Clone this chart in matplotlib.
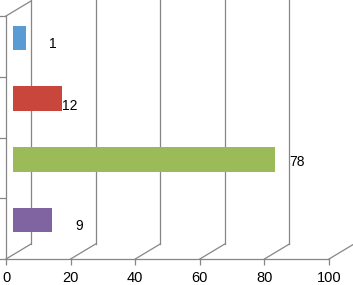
import matplotlib.pyplot as plt
import numpy as np

plt.rcParams['font.family'] = ['Liberation Sans', 'DejaVu Sans']

# data, top row first
values = [1, 12, 78, 9]
colors = ['#5b9bd5', '#c9463d', '#9bbb59', '#8064a2']
xticks = [0, 20, 40, 60, 80, 100]

fig = plt.figure(figsize=(3.53, 2.85), dpi=100)
ax = fig.add_axes([6 / 353, 26 / 285, 323 / 353, 243 / 285])
ax.set_xlim(0, 100)
ax.set_ylim(0, 4)

# pixel -> data conversion for the fake 3d depth
px_x = 323 / 100
px_y = 243 / 4
depth_x = 25 / px_x
depth_y = 15 / px_y
grey = '#868686'

# back wall gridlines and floor diagonals
for t in xticks:
    ax.plot([t + depth_x, t + depth_x], [depth_y, 5], color=grey, lw=0.9, clip_on=False)
    ax.plot([t, t + depth_x], [0, depth_y], color=grey, lw=0.9, clip_on=False)
# top edge of the side wall
ax.plot([0, depth_x], [4, 4 + depth_y], color=grey, lw=0.9, clip_on=False)

# bars (drawn half way into the depth)
n = len(values)
ypos = np.arange(n)[::-1] + 0.5 + 8.5 / px_y
bar_left = 7 / px_x
end_face = 10 / px_x
vals = np.array(values)
ax.barh(ypos, vals + end_face, left=bar_left, height=0.4, color=colors, zorder=3)

# value labels, pixel offsets from the bar end
label_dx = [27, 8, 22, 27]
label_dy = [-6, -7, -3, -6]
for y, v, dx, dy in zip(ypos, values, label_dx, label_dy):
    ax.annotate(str(v), (bar_left + v + end_face, y), xytext=(dx, dy),
                textcoords='offset pixels', ha='center', va='center',
                fontsize=10, color='black')

for s in ['top', 'right']:
    ax.spines[s].set_visible(False)
for s in ['left', 'bottom']:
    ax.spines[s].set_color(grey)
    ax.spines[s].set_linewidth(0.9)

ax.set_xticks(xticks)
ax.set_xticklabels([str(t) for t in xticks], fontsize=10.5)
ax.set_yticks([0, 1, 2, 3, 4])
ax.set_yticklabels([])
ax.tick_params(axis='x', length=4, color=grey, width=0.9, pad=4.5)
ax.tick_params(axis='y', length=6, color=grey, width=0.9)

fig.savefig('out.png', dpi=100)
